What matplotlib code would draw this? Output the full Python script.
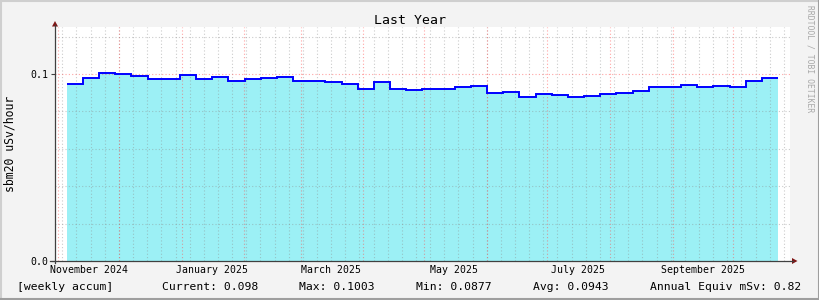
import numpy as np
import pandas as pd
import matplotlib
matplotlib.use("Agg")
import matplotlib.pyplot as plt
import matplotlib.dates as mdates
from matplotlib.lines import Line2D
from matplotlib.patches import Polygon

# dose rate per 8-day bin (uSv/h)
bin_start = "2024-11-05 04:00"
bin_days = 8
dose = [0.0948, 0.0980, 0.1003, 0.1001, 0.0990, 0.0974, 0.0974, 0.0996,
        0.0974, 0.0985, 0.0964, 0.0972, 0.0980, 0.0985, 0.0964, 0.0964,
        0.0955, 0.0948, 0.0921, 0.0958, 0.0921, 0.0916, 0.0921, 0.0921,
        0.0932, 0.0937, 0.0899, 0.0905, 0.0877, 0.0894, 0.0889, 0.0877,
        0.0883, 0.0894, 0.0899, 0.0910, 0.0932, 0.0932, 0.0942, 0.0932,
        0.0937, 0.0932, 0.0964, 0.0980]

month_labels = ["November 2024", "January 2025", "March 2025",
                "May 2025", "July 2025", "September 2025"]
month_label_dates = ["2024-11-16", "2025-01-16", "2025-03-16",
                     "2025-05-16", "2025-07-16", "2025-09-16"]
y_ticks = [0.0, 0.1]
y_ticklabels = ["0.0", "0.1"]

legend_texts = ["[weekly accum]", "Current: 0.098", "Max: 0.1003",
                "Min: 0.0877", "Avg: 0.0943", "Annual Equiv mSv: 0.82"]
legend_x = [17, 162, 299, 416, 533, 650]

W, H = 820, 300
FONT = "DejaVu Sans Mono"
plt.rcParams['font.family'] = FONT


def fx(x):
    return x / W


def fy(y):
    return 1 - y / H


fig = plt.figure(figsize=(W / 100, H / 100), dpi=100, facecolor='#f3f3f3')
ax = fig.add_axes([fx(55), fy(261), 735 / W, 234 / H], facecolor='white')

edges = mdates.date2num(pd.date_range(bin_start, periods=len(dose) + 1,
                                      freq=f"{bin_days}D"))
ax.stairs(dose, edges, baseline=0, fill=True, color='#9cf0f5', lw=0, zorder=1)
ax.stairs(dose, edges, baseline=None, color='#0000ff', lw=1.4, zorder=4)

# grid: weekly (grey) and monthly (red), dotted
dot = (0, (1, 2))
for d in pd.date_range("2024-10-27", "2025-10-30", freq="W-SUN"):
    ax.axvline(mdates.date2num(d), color='#8c8c8c', alpha=0.45, lw=0.8, ls=dot, zorder=2)
for d in pd.date_range("2024-11-01", "2025-10-30", freq="MS"):
    ax.axvline(mdates.date2num(d), color='#ff4a4a', alpha=0.5, lw=0.8, ls=dot, zorder=2)
for yv in [0.02, 0.04, 0.06, 0.08, 0.12]:
    ax.axhline(yv, color='#8c8c8c', alpha=0.45, lw=0.8, ls=dot, zorder=2)
ax.axhline(0.1, color='#ff4a4a', alpha=0.5, lw=0.8, ls=dot, zorder=2)

ax.set_xlim(mdates.date2num(pd.Timestamp("2024-10-30 09:00")),
            mdates.date2num(pd.Timestamp("2025-10-29 01:00")))
ax.set_ylim(0, 0.12513)

ax.set_yticks(y_ticks)
ax.set_yticklabels(y_ticklabels)
ax.set_xticks(mdates.date2num(pd.to_datetime(month_label_dates)))
ax.set_xticklabels(month_labels)
ax.tick_params(axis='y', length=3, width=0.8, color='#404040', pad=2, labelsize=7.1)
ax.tick_params(axis='x', length=0, pad=3, labelsize=7.1)
for s in ax.spines.values():
    s.set_visible(False)

# axes with arrows
axis_col = '#404040'
arrow_col = '#7f1616'
fig.add_artist(Line2D([fx(55), fx(55)], [fy(263), fy(25)], color=axis_col, lw=0.9))
fig.add_artist(Line2D([fx(50), fx(793)], [fy(261), fy(261)], color=axis_col, lw=0.9))
fig.add_artist(Polygon([(fx(55), fy(21)), (fx(52), fy(26.5)), (fx(58), fy(26.5))],
                       closed=True, color=arrow_col, lw=0))
fig.add_artist(Polygon([(fx(797.5), fy(261)), (fx(792), fy(258)), (fx(792), fy(264))],
                       closed=True, color=arrow_col, lw=0))

# frame shading
fig.add_artist(Line2D([0, 1], [fy(0.7), fy(0.7)], color='#cfcfcf', lw=1.5))
fig.add_artist(Line2D([fx(0.7), fx(0.7)], [0, 1], color='#cfcfcf', lw=1.5))
fig.add_artist(Line2D([0, 1], [fy(299.3), fy(299.3)], color='#9e9e9e', lw=1.5))
fig.add_artist(Line2D([fx(819.3), fx(819.3)], [0, 1], color='#9e9e9e', lw=1.5))

fig.text(0.5, fy(24), "Last Year", ha='center', va='baseline', fontsize=9.5)
fig.text(fx(10), fy(144), "sbm20 uSv/hour", rotation=90, ha='center',
         va='center', fontsize=8.3)
fig.text(fx(810), fy(5), "RRDTOOL / TOBI OETIKER", rotation=270, ha='center',
         va='top', fontsize=5.8, color='#a8a8a8')

for txt, x in zip(legend_texts, legend_x):
    fig.text(fx(x), fy(289.5), txt, ha='left', va='baseline', fontsize=8.2)

fig.savefig("out.png", dpi=100, facecolor=fig.get_facecolor())
